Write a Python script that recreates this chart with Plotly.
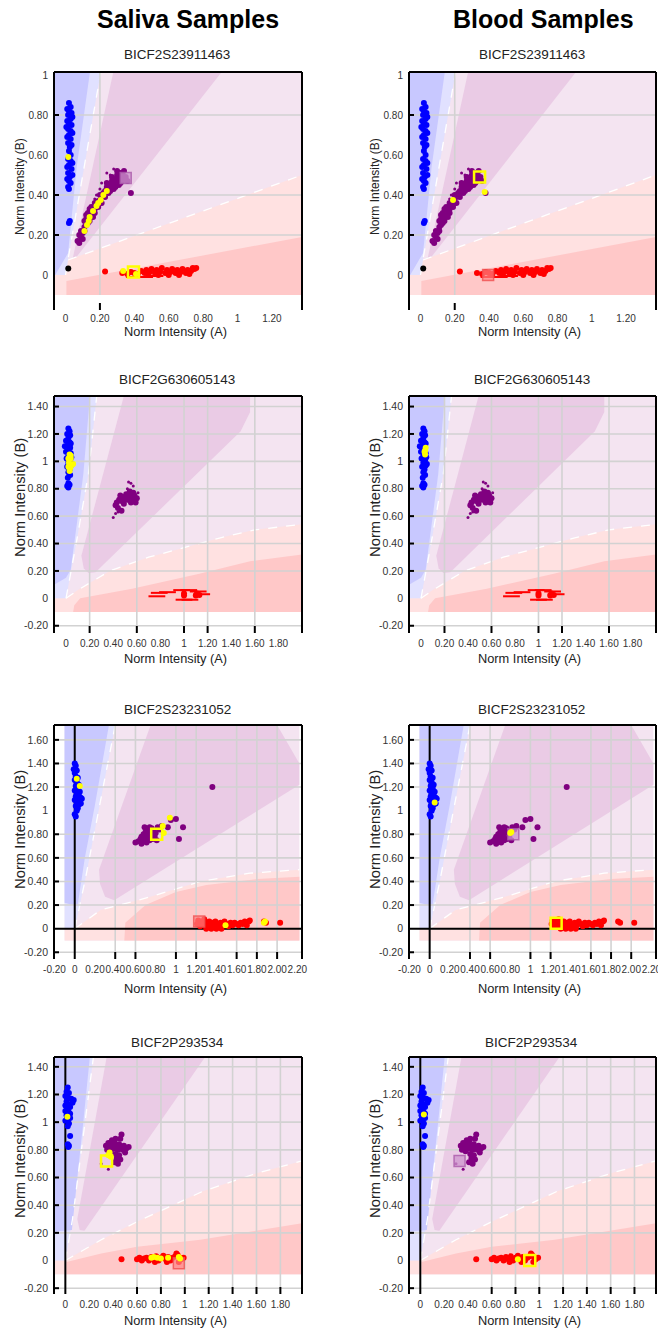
import plotly.graph_objects as go

FIG_W, FIG_H = 658, 1331

# ---------------------------------------------------------------- text
column_titles = ["Saliva Samples", "Blood Samples"]
snp_names = ["BICF2S23911463", "BICF2G630605143", "BICF2S23231052", "BICF2P293534"]
x_title = "Norm Intensity (A)"
y_title = "Norm Intensity (B)"

# ---------------------------------------------------------------- axes per SNP
x_windows = [(-0.067, 1.375), (-0.102, 2.0), (-0.205, 2.246), (-0.095, 1.981)]
y_windows = [(-0.175, 1.015), (-0.253, 1.477), (-0.257, 1.726), (-0.242, 1.471)]

x_tick_vals = [
    [0, 0.2, 0.4, 0.6, 0.8, 1.0, 1.2],
    [0, 0.2, 0.4, 0.6, 0.8, 1.0, 1.2, 1.4, 1.6, 1.8],
    [-0.2, 0, 0.2, 0.4, 0.6, 0.8, 1.0, 1.2, 1.4, 1.6, 1.8, 2.0, 2.2],
    [0, 0.2, 0.4, 0.6, 0.8, 1.0, 1.2, 1.4, 1.6, 1.8],
]
x_tick_text = [
    ["0", "0.20", "0.40", "0.60", "0.80", "1", "1.20"],
    ["0", "0.20", "0.40", "0.60", "0.80", "1", "1.20", "1.40", "1.60", "1.80"],
    ["-0.20", "0", "0.20", "0.40", "0.60", "0.80", "1", "1.20", "1.40", "1.60", "1.80", "2.00", "2.20"],
    ["0", "0.20", "0.40", "0.60", "0.80", "1", "1.20", "1.40", "1.60", "1.80"],
]
y_tick_vals = [
    [0, 0.2, 0.4, 0.6, 0.8, 1.0],
    [-0.2, 0, 0.2, 0.4, 0.6, 0.8, 1.0, 1.2, 1.4],
    [-0.2, 0, 0.2, 0.4, 0.6, 0.8, 1.0, 1.2, 1.4, 1.6],
    [-0.2, 0, 0.2, 0.4, 0.6, 0.8, 1.0, 1.2, 1.4],
]
y_tick_text = [
    ["0", "0.20", "0.40", "0.60", "0.80", "1"],
    ["-0.20", "0", "0.20", "0.40", "0.60", "0.80", "1", "1.20", "1.40"],
    ["-0.20", "0", "0.20", "0.40", "0.60", "0.80", "1", "1.20", "1.40", "1.60"],
    ["-0.20", "0", "0.20", "0.40", "0.60", "0.80", "1", "1.20", "1.40"],
]

# grid lines actually drawn by the cluster viewer
grid_x = [
    [0.2],
    [0.2, 0.6, 1.0, 1.2, 1.6],
    [0.4, 0.6, 1.0, 1.2, 1.6, 1.8, 2.0],
    [0.6, 0.8, 1.0, 1.2, 1.4, 1.6, 1.8],
]
grid_y = [
    [0.2, 0.4, 0.8],
    [-0.2, 0.2, 0.4, 0.6, 0.8, 1.0, 1.2, 1.4],
    [-0.2, 0.2, 0.4, 0.6, 0.8, 1.2, 1.4, 1.6],
    [-0.2, 0.2, 0.4, 0.6, 0.8, 1.0, 1.2, 1.4],
]
grid_x_floor = [-0.1, -0.2, -0.2, -0.2]
zero_x_line = [False, False, True, True]
zero_y_line = [False, False, True, False]

# ---------------------------------------------------------------- genotype call zones
shade_x = [(-0.067, 1.375), (-0.102, 2.0), (-0.1, 2.22), (-0.095, 1.981)]
shade_floor = -0.1

snp1_zones = {
    "ab_inner": [(0.036, 0.06), (0.278, 1.015), (0.908, 1.015)],
    "aa_outer": [(-0.067, -0.1), (-0.067, 0.0), (0.0, 0.0), (0.015, 0.075), (1.375, 0.5), (1.375, -0.1)],
    "aa_inner": [(0.005, -0.1), (0.005, -0.03), (1.375, 0.19), (1.375, -0.1)],
    "bb_outer": [(-0.067, 0.0), (0.0, 0.0), (0.015, 0.08), (0.205, 1.015), (-0.067, 1.015)],
    "bb_inner": [(-0.067, 0.0), (-0.06, 0.0), (0.015, 0.11), (0.065, 0.54), (0.142, 1.015), (-0.067, 1.015)],
}
snp1_bb_edge = [(0.0, 0.0), (0.015, 0.08), (0.205, 1.015)]
snp1_aa_edge = [(0.015, 0.075), (1.375, 0.5)]

snp2_zones = {
    "ab_inner": [(0.49, 1.477), (1.56, 1.477), (1.56, 1.36), (1.48, 1.22), (0.25, 0.19), (0.19, 0.185),
                 (0.15, 0.22), (0.13, 0.31)],
    "aa_outer": [(-0.102, -0.1), (-0.102, 0.0), (0.0, 0.0), (0.1, 0.06), (0.37, 0.2), (0.7, 0.3), (1.0, 0.37),
                 (1.3, 0.44), (1.6, 0.5), (2.0, 0.54), (2.0, -0.1)],
    "aa_inner": [(0.06, -0.1), (0.07, -0.05), (0.12, 0.0), (0.56, 0.07), (1.13, 0.18), (1.56, 0.27),
                 (2.0, 0.32), (2.0, -0.1)],
    "bb_outer": [(-0.102, 0.0), (0.0, 0.0), (0.09, 0.42), (0.19, 0.91), (0.26, 1.477), (-0.102, 1.477)],
    "bb_inner": [(-0.102, 0.1), (0.0, 0.15), (0.04, 0.21), (0.1, 0.6), (0.147, 0.91), (0.203, 1.477),
                 (-0.102, 1.477)],
}
snp2_bb_edge = [(0.0, 0.0), (0.09, 0.42), (0.19, 0.91), (0.26, 1.477)]
snp2_aa_edge = [(0.0, 0.0), (0.1, 0.06), (0.37, 0.2), (0.7, 0.3), (1.0, 0.37), (1.3, 0.44), (1.6, 0.5),
                (2.0, 0.54)]

snp3_zones = {
    "ab_inner": [(0.75, 1.726), (2.0, 1.726), (2.22, 1.4), (2.22, 1.22), (0.39, 0.24), (0.3, 0.27),
                 (0.25, 0.38), (0.24, 0.5)],
    "aa_outer": [(-0.1, -0.1), (-0.1, 0.0), (0.0, 0.0), (0.256, 0.158), (0.749, 0.27), (1.24, 0.4),
                 (1.73, 0.47), (2.22, 0.5), (2.22, -0.1)],
    "aa_inner": [(0.49, -0.1), (0.5, 0.05), (0.7, 0.2), (1.0, 0.31), (1.3, 0.37), (1.8, 0.42), (2.22, 0.44),
                 (2.22, -0.1)],
    "bb_outer": [(-0.1, 0.0), (0.0, 0.0), (0.1, 0.4), (0.4, 1.726), (-0.1, 1.726)],
    "bb_inner": [(-0.1, 0.22), (0.027, 0.19), (0.1, 0.6), (0.2, 1.05), (0.338, 1.726), (-0.1, 1.726)],
}
snp3_bb_edge = [(0.0, 0.0), (0.1, 0.4), (0.4, 1.726)]
snp3_aa_edge = [(0.0, 0.0), (0.256, 0.158), (0.749, 0.27), (1.24, 0.4), (1.73, 0.47), (2.22, 0.5)]

snp4_zones = {
    "ab_inner": [(0.346, 1.471), (1.17, 1.471), (0.16, 0.215), (0.12, 0.22), (0.1, 0.3)],
    "aa_outer": [(-0.095, -0.1), (-0.095, 0.0), (0.0, 0.0), (0.3, 0.15), (0.6, 0.28), (1.15, 0.5),
                 (1.6, 0.63), (1.981, 0.72), (1.981, -0.1)],
    "aa_inner": [(0.01, -0.1), (0.01, -0.01), (0.3, 0.05), (0.6, 0.1), (1.13, 0.15), (1.981, 0.27),
                 (1.981, -0.1)],
    "bb_outer": [(-0.095, 0.0), (0.0, 0.0), (0.06, 0.3), (0.235, 1.471), (-0.095, 1.471)],
    "bb_inner": [(-0.095, 0.21), (0.055, 0.22), (0.1, 0.6), (0.15, 1.0), (0.205, 1.471), (-0.095, 1.471)],
}
snp4_bb_edge = [(0.0, 0.0), (0.06, 0.3), (0.235, 1.471)]
snp4_aa_edge = [(0.0, 0.0), (0.3, 0.15), (0.6, 0.28), (1.15, 0.5), (1.6, 0.63), (1.981, 0.72)]

# ---------------------------------------------------------------- genotype clusters (A, B)
snp1_bb = [(0.02, 0.86), (0.03, 0.84), (0.02, 0.82), (0.035, 0.81), (0.015, 0.80), (0.03, 0.78), (0.02, 0.76),
           (0.035, 0.75), (0.015, 0.73), (0.03, 0.72), (0.02, 0.70), (0.03, 0.68), (0.015, 0.66), (0.025, 0.64),
           (0.02, 0.62), (0.03, 0.60), (0.015, 0.58), (0.03, 0.57), (0.02, 0.55), (0.035, 0.53), (0.015, 0.51),
           (0.025, 0.49), (0.02, 0.47), (0.03, 0.46), (0.015, 0.44), (0.02, 0.43), (0.01, 0.83), (0.04, 0.79),
           (0.01, 0.77), (0.04, 0.71), (0.01, 0.69), (0.035, 0.65), (0.005, 0.74), (0.04, 0.56), (0.01, 0.54),
           (0.04, 0.50), (0.01, 0.48), (0.025, 0.27), (0.02, 0.26)]
snp1_ab = [(0.07, 0.17), (0.08, 0.16), (0.09, 0.19), (0.10, 0.18), (0.08, 0.20), (0.11, 0.22), (0.12, 0.25),
           (0.11, 0.27), (0.13, 0.26), (0.14, 0.29), (0.13, 0.31), (0.15, 0.30), (0.16, 0.32), (0.15, 0.34),
           (0.17, 0.33), (0.18, 0.35), (0.19, 0.37), (0.20, 0.36), (0.21, 0.39), (0.20, 0.40), (0.22, 0.41),
           (0.23, 0.42), (0.24, 0.44), (0.25, 0.43), (0.26, 0.45), (0.27, 0.44), (0.27, 0.47), (0.28, 0.46),
           (0.29, 0.48), (0.30, 0.47), (0.30, 0.50), (0.31, 0.49), (0.32, 0.51), (0.33, 0.50), (0.34, 0.52),
           (0.29, 0.44), (0.31, 0.45), (0.33, 0.47), (0.35, 0.49), (0.36, 0.47), (0.38, 0.41), (0.10, 0.21),
           (0.12, 0.28), (0.16, 0.29), (0.17, 0.36), (0.19, 0.34), (0.23, 0.39), (0.26, 0.42),
           (0.09, 0.22), (0.11, 0.24), (0.14, 0.27), (0.17, 0.31), (0.21, 0.36), (0.25, 0.41), (0.28, 0.43),
           (0.32, 0.46), (0.34, 0.48), (0.30, 0.52), (0.27, 0.49), (0.24, 0.46), (0.14, 0.33), (0.12, 0.30)]
snp1_ab_faint = [(0.28, 0.53), (0.24, 0.51), (0.20, 0.43), (0.18, 0.40), (0.21, 0.46), (0.17, 0.38),
                 (0.26, 0.50)]
snp1_aa = [(0.23, 0.017), (0.33, 0.01), (0.36, 0.005), (0.38, 0.015), (0.40, 0.01), (0.42, 0.005),
           (0.44, 0.02), (0.46, 0.01), (0.47, 0.025), (0.49, 0.015), (0.50, 0.03), (0.52, 0.01), (0.53, 0.025),
           (0.55, 0.015), (0.56, 0.035), (0.58, 0.01), (0.59, 0.025), (0.61, 0.015), (0.62, 0.03), (0.64, 0.01),
           (0.65, 0.025), (0.67, 0.015), (0.68, 0.03), (0.70, 0.01), (0.71, 0.025), (0.73, 0.02), (0.74, 0.035),
           (0.75, 0.03), (0.76, 0.035), (0.60, 0.0), (0.66, 0.0), (0.72, 0.005), (0.54, 0.0), (0.48, 0.0)]
snp1_aa_dash = [(0.40, -0.01), (0.46, -0.01), (0.52, -0.005)]
snp1_nocall = [(0.016, 0.033)]

snp2_bb = [(0.02, 1.24), (0.03, 1.22), (0.01, 1.20), (0.035, 1.19), (0.02, 1.17), (0.0, 1.15), (0.03, 1.14),
           (0.015, 1.12), (-0.01, 1.11), (0.035, 1.10), (0.02, 1.08), (0.0, 1.07), (0.04, 1.06), (0.02, 1.04),
           (0.005, 1.02), (0.035, 1.01), (0.02, 0.99), (0.04, 0.97), (0.01, 0.96), (0.03, 0.94), (0.02, 0.92),
           (0.035, 0.90), (0.015, 0.88), (0.02, 0.84), (0.01, 0.82), (0.03, 0.83), (0.02, 0.81), (0.05, 0.98),
           (0.045, 1.03), (0.04, 1.13)]
snp2_ab = [(0.42, 0.68), (0.43, 0.70), (0.45, 0.72), (0.47, 0.71), (0.48, 0.74), (0.50, 0.73), (0.52, 0.72),
           (0.53, 0.75), (0.55, 0.74), (0.57, 0.72), (0.58, 0.75), (0.60, 0.73), (0.57, 0.77), (0.55, 0.70),
           (0.49, 0.69), (0.46, 0.75), (0.51, 0.76), (0.44, 0.66), (0.47, 0.64), (0.59, 0.70), (0.54, 0.78)]
snp2_ab_faint = [(0.52, 0.80), (0.55, 0.84), (0.57, 0.82), (0.42, 0.62), (0.40, 0.59), (0.61, 0.77),
                 (0.53, 0.85), (0.44, 0.63)]
snp2_aa = [(1.0, 0.02), (1.0, 0.035), (1.1, 0.02), (1.11, 0.035), (1.13, 0.025)]
snp2_aa_dash = [(0.79, 0.04), (0.86, 0.045), (0.98, 0.06), (1.04, 0.06), (1.0, -0.01), (1.05, -0.01),
                (1.12, 0.05), (0.77, 0.015), (1.15, 0.03)]
snp2_nocall = []

snp3_bb = [(0.0, 1.40), (0.01, 1.38), (-0.01, 1.35), (0.02, 1.34), (0.0, 1.32), (0.01, 1.29), (0.03, 1.28),
           (0.0, 1.26), (0.02, 1.24), (0.04, 1.22), (0.01, 1.21), (0.03, 1.19), (0.0, 1.17), (0.05, 1.16),
           (0.02, 1.15), (0.04, 1.13), (0.01, 1.12), (0.06, 1.11), (0.03, 1.10), (0.0, 1.09), (0.05, 1.08),
           (0.02, 1.07), (0.04, 1.05), (0.01, 1.04), (0.03, 1.02), (0.02, 1.0), (0.0, 0.97), (0.01, 0.95),
           (0.07, 1.10), (0.06, 1.06)]
snp3_ab = [(0.6, 0.73), (0.63, 0.74), (0.65, 0.76), (0.66, 0.78), (0.68, 0.80), (0.70, 0.82), (0.72, 0.84),
           (0.74, 0.86), (0.76, 0.85), (0.78, 0.83), (0.80, 0.81), (0.79, 0.78), (0.77, 0.76), (0.74, 0.75),
           (0.71, 0.73), (0.68, 0.74), (0.66, 0.72), (0.70, 0.77), (0.73, 0.79), (0.75, 0.81), (0.82, 0.86),
           (0.84, 0.84), (0.86, 0.87), (0.69, 0.86), (0.81, 0.75), (0.92, 0.86), (0.95, 0.92), (1.0, 0.93),
           (1.07, 0.86), (1.03, 0.76), (1.36, 1.20)]
snp3_ab_faint = []
snp3_aa = [(1.21, 0.04), (1.22, 0.07), (1.24, 0.02), (1.25, 0.06), (1.27, 0.03), (1.28, 0.08), (1.30, 0.05),
           (1.31, 0.02), (1.33, 0.06), (1.34, 0.03), (1.36, 0.05), (1.38, 0.02), (1.39, 0.06), (1.41, 0.04),
           (1.43, 0.02), (1.44, 0.05), (1.46, 0.03), (1.48, 0.06), (1.50, 0.04), (1.52, 0.02), (1.54, 0.05),
           (1.56, 0.03), (1.58, 0.05), (1.60, 0.04), (1.62, 0.03), (1.64, 0.05), (1.66, 0.04), (1.68, 0.06),
           (1.70, 0.03), (1.72, 0.06), (1.73, 0.07), (1.87, 0.06), (1.89, 0.05), (2.03, 0.05), (1.35, 0.0),
           (1.40, 0.0), (1.45, 0.0), (1.30, 0.0)]
snp3_aa_dash = []
snp3_nocall = []

snp4_bb = [(0.02, 1.25), (0.01, 1.22), (0.03, 1.21), (0.0, 1.19), (0.02, 1.18), (0.05, 1.17), (0.07, 1.16),
           (0.01, 1.15), (0.03, 1.13), (0.0, 1.12), (0.04, 1.11), (0.02, 1.09), (0.0, 1.08), (0.03, 1.07),
           (0.01, 1.05), (0.04, 1.03), (0.02, 1.02), (0.0, 1.01), (0.03, 0.99), (0.02, 0.97), (0.04, 0.90),
           (0.02, 0.84), (0.03, 0.83), (0.025, 0.82), (0.06, 1.14), (0.04, 1.06)]
snp4_ab = [(0.34, 0.83), (0.36, 0.85), (0.37, 0.82), (0.39, 0.84), (0.40, 0.81), (0.41, 0.86), (0.43, 0.83),
           (0.44, 0.80), (0.45, 0.84), (0.46, 0.88), (0.47, 0.91), (0.46, 0.82), (0.48, 0.80), (0.49, 0.83),
           (0.51, 0.81), (0.53, 0.82), (0.50, 0.78), (0.42, 0.77), (0.43, 0.74), (0.41, 0.71), (0.44, 0.70),
           (0.38, 0.79), (0.35, 0.80), (0.45, 0.76), (0.42, 0.88), (0.39, 0.87), (0.46, 0.73)]
snp4_ab_faint = [(0.36, 0.66), (0.30, 0.70)]
snp4_aa = [(0.47, 0.01), (0.60, 0.01), (0.62, 0.02), (0.64, 0.0), (0.66, 0.015), (0.68, 0.02), (0.70, 0.0),
           (0.72, 0.025), (0.74, 0.01), (0.76, 0.03), (0.78, 0.0), (0.80, 0.02), (0.82, 0.035), (0.84, 0.01),
           (0.86, 0.025), (0.88, 0.0), (0.90, 0.02), (0.92, 0.03), (0.94, 0.04), (0.96, 0.02), (0.97, 0.01),
           (0.99, 0.02), (0.93, 0.05), (0.75, -0.01), (0.85, -0.01), (0.95, -0.01)]
snp4_aa_dash = []
snp4_nocall = []

# ---------------------------------------------------------------- highlighted samples
saliva_yellow = [
    [(0.016, 0.59), (0.11, 0.22), (0.125, 0.25), (0.135, 0.27), (0.14, 0.29), (0.16, 0.32), (0.18, 0.345),
     (0.19, 0.36), (0.205, 0.375), (0.22, 0.40), (0.24, 0.42), (0.335, 0.02), (0.41, 0.005)],
    [(0.03, 1.05), (0.04, 1.02), (0.025, 0.99), (0.045, 0.97), (0.035, 0.95), (0.06, 0.98), (0.02, 0.96),
     (0.03, 0.93), (0.04, 1.04), (0.02, 1.02)],
    [(0.02, 1.27), (0.05, 1.21), (0.94, 0.94), (0.88, 0.81), (0.87, 0.87), (1.49, 0.03), (1.88, 0.06),
     (1.87, 0.05)],
    [(0.017, 1.04), (0.37, 0.78), (0.38, 0.75), (0.36, 0.76), (0.72, 0.02), (0.74, 0.025), (0.77, 0.02),
     (0.80, 0.015), (0.86, 0.02), (0.95, 0.025), (0.96, 0.015)],
]
blood_yellow = [
    [(0.375, 0.415), (0.19, 0.375)],
    [(0.035, 1.08), (0.04, 1.10), (0.035, 1.05), (0.03, 1.07)],
    [(0.05, 1.07), (0.80, 0.81), (0.81, 0.82)],
    [(0.03, 1.055), (0.82, 0.01)],
]
saliva_boxed = [[(0.395, 0.015)], [], [(0.81, 0.80)], [(0.345, 0.72)]]
blood_boxed = [[(0.345, 0.49)], [], [(1.255, 0.045)], [(0.92, 0.0)]]
saliva_faded_ab = [[(0.35, 0.485)], [], [], []]
blood_faded_ab = [[], [], [(0.83, 0.80)], [(0.33, 0.72)]]
saliva_faded_aa = [[], [], [(1.23, 0.06)], [(0.95, -0.02)]]
blood_faded_aa = [[(0.395, 0.0)], [], [], []]

# ---------------------------------------------------------------- assemble per-SNP tables
zones = [snp1_zones, snp2_zones, snp3_zones, snp4_zones]
bb_edges = [snp1_bb_edge, snp2_bb_edge, snp3_bb_edge, snp4_bb_edge]
aa_edges = [snp1_aa_edge, snp2_aa_edge, snp3_aa_edge, snp4_aa_edge]
bb_pts = [snp1_bb, snp2_bb, snp3_bb, snp4_bb]
ab_pts = [snp1_ab, snp2_ab, snp3_ab, snp4_ab]
ab_faint = [snp1_ab_faint, snp2_ab_faint, snp3_ab_faint, snp4_ab_faint]
aa_pts = [snp1_aa, snp2_aa, snp3_aa, snp4_aa]
aa_dash = [snp1_aa_dash, snp2_aa_dash, snp3_aa_dash, snp4_aa_dash]
nocall = [snp1_nocall, snp2_nocall, snp3_nocall, snp4_nocall]

# ---------------------------------------------------------------- styling
FONT = "Arial, Liberation Sans, sans-serif"
ZONE_COLORS = {
    "field": "#f4e4f1",
    "ab_inner": "#eacbe5",
    "aa_outer": "#ffe1e1",
    "aa_inner": "#ffc8c8",
    "bb_outer": "#e1e1ff",
    "bb_inner": "#c8c8ff",
}
GRID_COLOR = "#d2d2d2"

col_left_px = [54, 409]
col_right_px = [302, 656]
row_top_px = [72, 396, 725, 1057]
row_bottom_px = [310, 633, 959, 1294]
x_label_gap = [1, 3, 3, 3]
title_y_px = [55, 379, 709, 1042]
xtitle_y_px = [332, 658, 988, 1320]
ytitle_y_px = [187, 498, 830, 1159]
ytitle_size = [12, 14.8, 14.8, 14.8]
ytick_size = [10, 10.5, 10.5, 10.5]


def fx(px):
    return px / FIG_W


def fy(px):
    return 1 - px / FIG_H


def path_of(vertices, close=True):
    s = "M " + " L ".join(f"{x},{y}" for x, y in vertices)
    return s + (" Z" if close else "")


fig = go.Figure()
shapes = []
annotations = []
layout_axes = {}

for row in range(4):
    for col in range(2):
        n = row * 2 + col + 1
        sfx = "" if n == 1 else str(n)
        xa, ya = "x" + sfx, "y" + sfx
        x0, x1 = x_windows[row]
        y0, y1 = y_windows[row]
        left, right = col_left_px[col], col_right_px[col]
        top, bottom = row_top_px[row], row_bottom_px[row]
        pw, ph = right - left, bottom - top

        layout_axes["xaxis" + sfx] = dict(
            domain=[fx(left), fx(right)], range=[x0, x1], anchor=ya,
            showgrid=False, zeroline=False, showline=False, ticks="",
            tickvals=x_tick_vals[row], ticktext=x_tick_text[row], tickangle=0,
            ticklabelstandoff=x_label_gap[row], ticklabeloverflow="allow",
            tickfont=dict(family=FONT, size=10, color="#333333"), fixedrange=True,
        )
        layout_axes["yaxis" + sfx] = dict(
            domain=[fy(bottom), fy(top)], range=[y0, y1], anchor=xa,
            showgrid=False, zeroline=False, showline=False, ticks="",
            tickvals=y_tick_vals[row], ticktext=y_tick_text[row],
            ticklabelstandoff=5,
            tickfont=dict(family=FONT, size=ytick_size[row], color="#333333"), fixedrange=True,
        )

        # call zones
        sx0, sx1 = shade_x[row]
        shapes.append(dict(type="rect", xref=xa, yref=ya, x0=sx0, x1=sx1, y0=shade_floor, y1=y1,
                           fillcolor=ZONE_COLORS["field"], line=dict(width=0), layer="below"))
        for key in ["ab_inner", "aa_outer", "aa_inner", "bb_outer", "bb_inner"]:
            shapes.append(dict(type="path", xref=xa, yref=ya, path=path_of(zones[row][key]),
                               fillcolor=ZONE_COLORS[key], line=dict(width=0), layer="below"))
        for edge in (bb_edges[row], aa_edges[row]):
            shapes.append(dict(type="path", xref=xa, yref=ya, path=path_of(edge, close=False),
                               line=dict(color="white", width=1.3, dash="dash"), layer="below"))

        # grid and ticks
        for gx in grid_x[row]:
            shapes.append(dict(type="line", xref=xa, yref=ya, x0=gx, x1=gx, y0=grid_x_floor[row], y1=y1,
                               line=dict(color=GRID_COLOR, width=1.6), layer="below"))
            shapes.append(dict(type="line", xref=xa, yref=ya + " domain", x0=gx, x1=gx, y0=0, y1=7 / ph,
                               line=dict(color="black", width=2), layer="above"))
        for gy in grid_y[row]:
            shapes.append(dict(type="line", xref=xa, yref=ya, x0=x0, x1=x1, y0=gy, y1=gy,
                               line=dict(color=GRID_COLOR, width=1.6), layer="below"))
            shapes.append(dict(type="line", xref=xa + " domain", yref=ya, x0=0, x1=5 / pw, y0=gy, y1=gy,
                               line=dict(color="black", width=2), layer="above"))
        if zero_x_line[row]:
            shapes.append(dict(type="line", xref=xa, yref=ya, x0=0, x1=0, y0=y0, y1=y1,
                               line=dict(color="black", width=2), layer="below"))
        if zero_y_line[row]:
            shapes.append(dict(type="line", xref=xa, yref=ya, x0=x0, x1=x1, y0=0, y1=0,
                               line=dict(color="black", width=2), layer="below"))

        # frame: left, top, right
        for (a0, b0, a1, b1) in [(0, 0, 0, 1), (0, 1, 1, 1), (1, 0, 1, 1)]:
            shapes.append(dict(type="line", xref=xa + " domain", yref=ya + " domain",
                               x0=a0, y0=b0, x1=a1, y1=b1, line=dict(color="black", width=2),
                               layer="above"))

        # scatter clusters
        def add(points, color, size, symbol="circle", line_w=0, line_color=None):
            if not points:
                return
            fig.add_trace(go.Scatter(
                x=[p[0] for p in points], y=[p[1] for p in points], mode="markers",
                xaxis=xa, yaxis=ya, showlegend=False, hoverinfo="skip",
                marker=dict(color=color, size=size, symbol=symbol,
                            line=dict(width=line_w, color=line_color or color)),
            ))

        add(bb_pts[row], "#0000ff", 6)
        add(ab_pts[row], "#800080", 6)
        add(ab_faint[row], "#800080", 3)
        add(aa_pts[row], "#ff0000", 6)
        add(aa_dash[row], "#ff0000", 12, "line-ew", 2, "#ff0000")
        add(nocall[row], "#000000", 6)

        faded_ab = (saliva_faded_ab if col == 0 else blood_faded_ab)[row]
        faded_aa = (saliva_faded_aa if col == 0 else blood_faded_aa)[row]
        add(faded_ab, "rgba(205,150,205,0.75)", 11, "square", 1.5, "rgba(170,90,170,0.8)")
        add(faded_aa, "rgba(255,130,130,0.7)", 11, "square", 1.5, "rgba(240,80,80,0.8)")
        add((saliva_yellow if col == 0 else blood_yellow)[row], "#ffff00", 6)
        add((saliva_boxed if col == 0 else blood_boxed)[row], "#ffff00", 11, "square-open", 2.5, "#ffff00")

        cx = (left + right) / 2
        annotations.append(dict(text=snp_names[row], x=fx(cx - 1), y=fy(title_y_px[row]), xref="paper",
                                yref="paper", showarrow=False, xanchor="center", yanchor="middle",
                                font=dict(family=FONT, size=13.5, color="#222222")))
        annotations.append(dict(text=x_title, x=fx(cx - 3), y=fy(xtitle_y_px[row]), xref="paper",
                                yref="paper", showarrow=False, xanchor="center", yanchor="middle",
                                font=dict(family=FONT, size=12.8, color="#222222")))
        annotations.append(dict(text=y_title, x=fx(left - 34), y=fy(ytitle_y_px[row]), xref="paper",
                                yref="paper", showarrow=False, xanchor="center", yanchor="middle",
                                textangle=-90, font=dict(family=FONT, size=ytitle_size[row],
                                                         color="#222222")))

for col, (title, cx) in enumerate(zip(column_titles, [188, 543])):
    annotations.append(dict(text="<b>" + title + "</b>", x=fx(cx), y=fy(19), xref="paper", yref="paper",
                            showarrow=False, xanchor="center", yanchor="middle",
                            font=dict(family=FONT, size=25, color="#000000")))

fig.update_layout(
    width=FIG_W, height=FIG_H, margin=dict(l=0, r=0, t=0, b=0),
    paper_bgcolor="white", plot_bgcolor="white", template="none",
    font=dict(family=FONT), shapes=shapes, annotations=annotations, showlegend=False,
    **layout_axes,
)

fig.write_html("out.html")
